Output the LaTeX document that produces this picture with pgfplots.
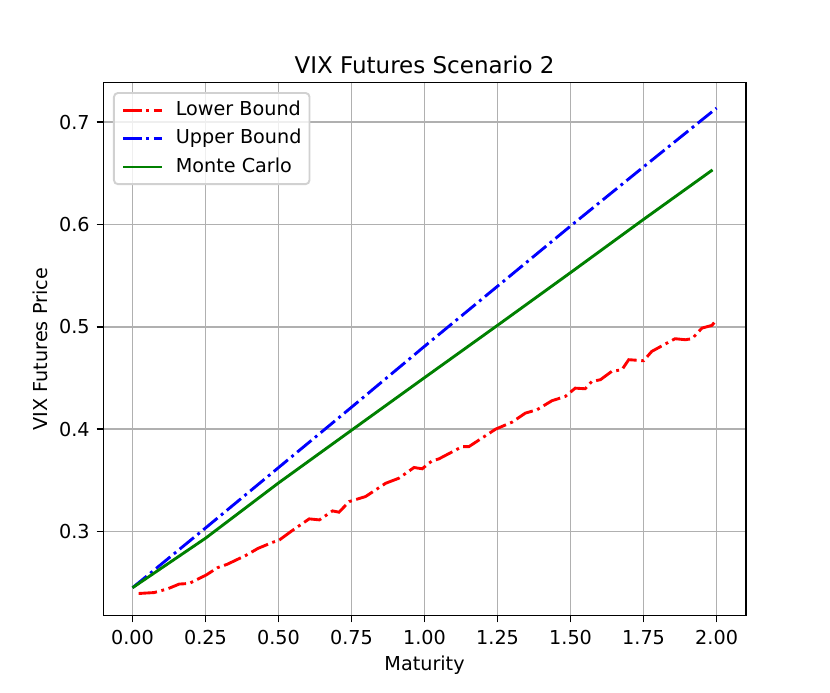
\documentclass[border=0pt]{standalone}
\usepackage{fontspec}
\setmainfont{DejaVu Sans}
\usepackage{pgfplots}
\pgfplotsset{compat=1.18}
\definecolor{mplgreen}{RGB}{0,128,0}
\definecolor{gridgray}{RGB}{176,176,176}
\begin{document}
\begin{tikzpicture}
\begin{axis}[
  scale only axis,
  width=321.25pt, height=266.5pt,
  xmin=-0.1, xmax=2.1,
  ymin=0.2178, ymax=0.7385,
  xtick={0,0.25,0.5,0.75,1,1.25,1.5,1.75,2},
  xticklabels={0.00,0.25,0.50,0.75,1.00,1.25,1.50,1.75,2.00},
  ytick={0.3,0.4,0.5,0.6,0.7},
  yticklabels={0.3,0.4,0.5,0.6,0.7},
  tick align=outside,
  major tick length=3.35pt,
  tick style={black, line width=0.77pt},
  xtick pos=bottom, ytick pos=left,
  axis line style={line width=0.77pt},
  grid=major,
  major grid style={color=gridgray, line width=0.77pt},
  tick label style={font=\fontsize{9.6}{11.5}\selectfont},
  xticklabel style={anchor=base, inner sep=0pt, yshift=-10.8pt},
  yticklabel style={anchor=east, inner sep=0pt, xshift=-3.3pt},
  label style={font=\fontsize{9.6}{11.5}\selectfont},
  xlabel={Maturity},
  ylabel={VIX Futures Price},
  xlabel style={at={(rel axis cs:0.5,0)}, anchor=base, inner sep=0pt, yshift=-27.5pt},
  ylabel style={at={([xshift=-28pt]rel axis cs:0,0.5)}, anchor=base, inner sep=0pt},
  title={VIX Futures Scenario 2},
  title style={at={(rel axis cs:0.5,1)}, anchor=base, inner sep=0pt, yshift=-1.2pt, font=\fontsize{11.5}{13.8}\selectfont},
  legend cell align=left,
  legend image code/.code={\draw[#1] (0pt,0pt) -- (19.5pt,0pt);},
  legend style={
    at={(rel axis cs:0,1)}, anchor=north west, xshift=4.85pt, yshift=-4.65pt,
    draw=black!18, line width=0.96pt, rounded corners=2pt,
    fill=white, fill opacity=0.8, text opacity=1,
    inner xsep=4pt, inner ysep=4pt,
    font=\fontsize{9.6}{11.5}\selectfont,
    nodes={inner sep=0pt, text height=7.2pt, text depth=1.9pt},
    row sep=5.15pt,
    /tikz/every odd column/.append style={column sep=6pt},
  },
]
\addplot[red, line width=1.44pt, dash pattern=on 9.2pt off 2.3pt on 1.44pt off 2.3pt] coordinates {
(0.021,0.2395) (0.074,0.2404) (0.120,0.2440) (0.160,0.2487) (0.194,0.2493)
(0.252,0.2575) (0.291,0.2647) (0.324,0.2680) (0.390,0.2770) (0.430,0.2836)
(0.480,0.2895) (0.503,0.2918) (0.550,0.3016) (0.605,0.3124) (0.640,0.3114)
(0.685,0.3202) (0.707,0.3189) (0.742,0.3293) (0.798,0.3342) (0.867,0.3472)
(0.912,0.3521) (0.964,0.3626) (0.992,0.3613) (1.015,0.3668) (1.026,0.3690)
(1.049,0.3710) (1.129,0.3830) (1.152,0.3830) (1.243,0.4000) (1.300,0.4069)
(1.345,0.4157) (1.385,0.4190) (1.436,0.4278) (1.482,0.4320) (1.516,0.4401)
(1.550,0.4395) (1.573,0.4467) (1.602,0.4483) (1.641,0.4565) (1.676,0.4581)
(1.699,0.4679) (1.750,0.4669) (1.778,0.4760) (1.824,0.4832) (1.858,0.4884)
(1.893,0.4874) (1.916,0.4884) (1.950,0.4988) (1.984,0.5014) (2.000,0.5070)
};
\addlegendentry{Lower Bound}
\addplot[blue, line width=1.44pt, dash pattern=on 9.2pt off 2.3pt on 1.44pt off 2.3pt] coordinates {
(0,0.2451) (0.25,0.3035) (0.5,0.3625) (0.75,0.4215) (1.0,0.4810)
(1.25,0.5397) (1.5,0.5985) (1.75,0.6563) (2.0,0.7137)
};
\addlegendentry{Upper Bound}
\addplot[mplgreen, line width=1.44pt] coordinates {
(0,0.2451) (0.25,0.2935) (0.5,0.3475) (0.75,0.3990) (1.0,0.4504)
(1.25,0.5015) (1.5,0.5530) (1.75,0.6050) (1.9,0.6357) (1.986,0.6533)
};
\addlegendentry{Monte Carlo}
\end{axis}
\pgfresetboundingbox
\path (current axis.south west) ++(-51.65pt,-38.15pt) rectangle ++(415pt,346pt);
\end{tikzpicture}
\end{document}
